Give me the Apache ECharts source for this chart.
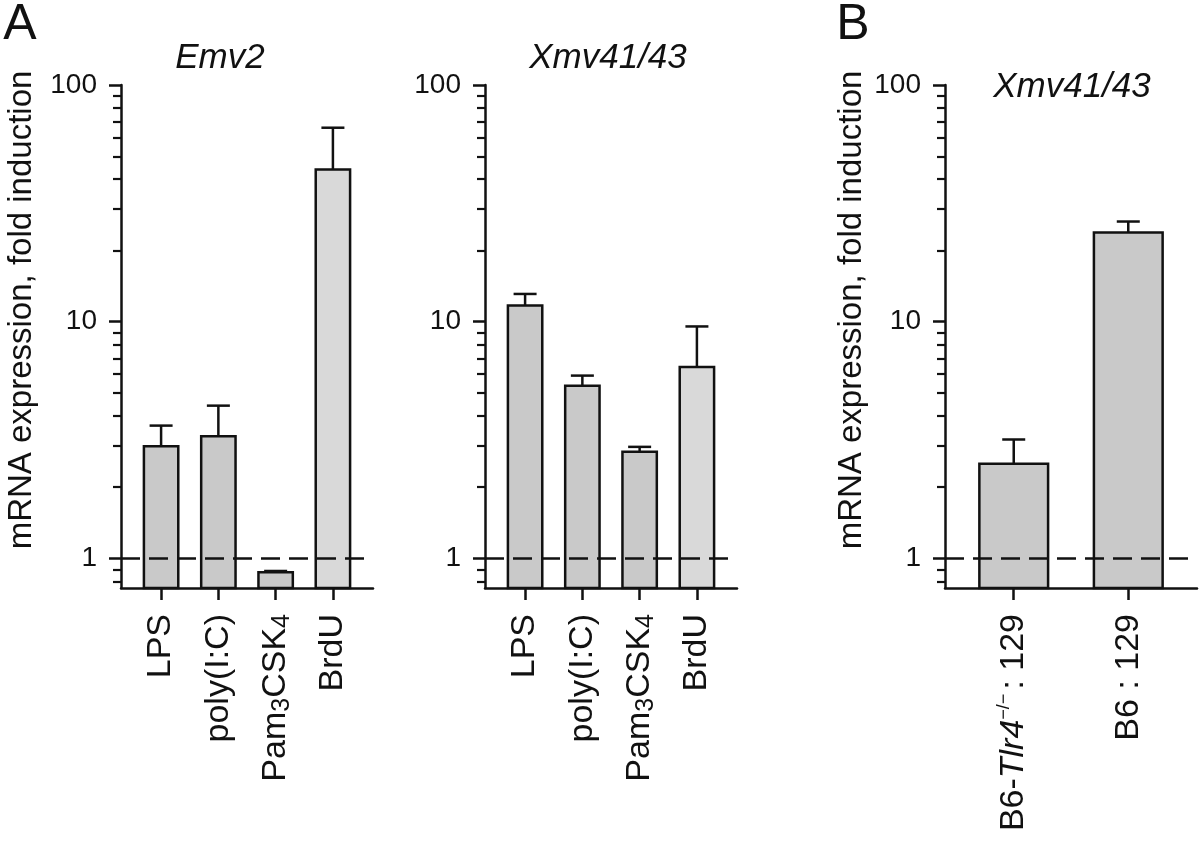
<!DOCTYPE html>
<html><head><meta charset="utf-8">
<script src="https://cdn.jsdelivr.net/npm/echarts@6/dist/echarts.min.js"></script>
<style>html,body{margin:0;padding:0;background:#fff}#c{width:1200px;height:853px}</style>
</head><body><div id="c"></div>
<script>
// ---- data ----
const catsA = ['LPS', 'poly(I:C)', 'Pam₃CSK₄', 'BrdU'];
const catsB = ['B6-Tlr4−/− : 129', 'B6 : 129'];
const emv2Values = [2.98, 3.28, 0.875, 44];
const emv2ErrTop = [3.64, 4.42, 0.885, 66];
const xmvAValues = [11.7, 5.37, 2.82, 6.44];
const xmvAErrTop = [13.1, 5.92, 2.96, 9.55];
const xmvBValues = [2.51, 23.8];
const xmvBErrTop = [3.18, 26.5];
const majorTicks = [1, 10, 100];
const minorTicks = [0.8, 0.9, 2, 3, 4, 5, 6, 7, 8, 9, 20, 30, 40, 50, 60, 70, 80, 90];
const refLine = 1;

// ---- style ----
const FONT = "'Liberation Sans', Arial, sans-serif";
const INK = '#111111';
const LW = 2.5;
const Y_MIN = 0.75, Y_MAX = 100;
const GRAY = '#c9c9c9', LIGHT = '#d9d9d9';
const colorsA = [GRAY, GRAY, GRAY, LIGHT];
const colorsB = [GRAY, GRAY];

const panels = [
  {left: 121, cats: catsA, vals: emv2Values, errs: emv2ErrTop, colors: colorsA, xmin: -0.7, xmax: 3.7},
  {left: 485, cats: catsA, vals: xmvAValues, errs: xmvAErrTop, colors: colorsA, xmin: -0.7, xmax: 3.7},
  {left: 945, cats: catsB, vals: xmvBValues, errs: xmvBErrTop, colors: colorsB, xmin: -0.6, xmax: 1.6}
];

function richLabel(s) {
  if (s.indexOf('₃') >= 0) return '{n|Pam}{sub|3}{n|CSK}{sub|4}';
  if (s.indexOf('Tlr4') >= 0) return '{n|B6-}{i|Tlr4}{sup|−/−}{n|: 129}';
  return '{n|' + s + '}';
}

function renderBar(params, api) {
  const x = api.value(0), v = api.value(1), e = api.value(2);
  const hw = 0.3;
  const pL = api.coord([x - hw, v]);
  const pR = api.coord([x + hw, v]);
  const pB = api.coord([x, Y_MIN]);
  const pE = api.coord([x, e]);
  const cap = 11.5;
  const color = api.visual('color');
  const children = [
    {type: 'rect', shape: {x: pL[0], y: pL[1], width: pR[0] - pL[0], height: pB[1] - pL[1]},
     style: {fill: color, stroke: INK, lineWidth: LW}}
  ];
  if (e > v) {
    const cx = (pL[0] + pR[0]) / 2;
    children.push({type: 'line', shape: {x1: cx, y1: pL[1], x2: cx, y2: pE[1]}, style: {stroke: INK, lineWidth: LW}});
    children.push({type: 'line', shape: {x1: cx - cap, y1: pE[1], x2: cx + cap, y2: pE[1]}, style: {stroke: INK, lineWidth: LW}});
  }
  return {type: 'group', children};
}

const grid = [], xAxis = [], yAxis = [], series = [];
panels.forEach((p, i) => {
  grid.push({left: p.left, top: 85, width: 252, height: 503});
  const idx = p.cats.map((c, k) => k);
  xAxis.push({
    gridIndex: i, type: 'value', min: p.xmin, max: p.xmax, position: 'bottom',
    splitLine: {show: false},
    axisLine: {show: true, onZero: false, lineStyle: {color: INK, width: LW}},
    axisTick: {show: true, customValues: idx, length: 12, lineStyle: {color: INK, width: LW}},
    axisLabel: {
      show: true, customValues: idx, rotate: 90, margin: 26,
      formatter: v => richLabel(p.cats[Math.round(v)]),
      rich: {
        n: {fontSize: 34, fontFamily: FONT, color: INK, lineHeight: 38},
        i: {fontSize: 34, fontFamily: FONT, fontStyle: 'italic', color: INK, lineHeight: 38},
        sub: {fontSize: 25, fontFamily: FONT, color: INK, verticalAlign: 'bottom', lineHeight: 38},
        sup: {fontSize: 18, fontFamily: FONT, color: INK, verticalAlign: 'top', lineHeight: 38, padding: [0, 4, 0, 0]}
      }
    }
  });
  yAxis.push({
    gridIndex: i, type: 'log', logBase: 10, min: Y_MIN, max: Y_MAX, position: 'left',
    splitLine: {show: false},
    axisLine: {show: true, onZero: false, lineStyle: {color: INK, width: LW}},
    axisTick: {show: true, customValues: majorTicks, length: 12, lineStyle: {color: INK, width: LW}},
    axisLabel: {show: true, customValues: majorTicks, margin: 24, fontSize: 28, fontFamily: FONT, color: INK,
      formatter: v => String(Math.round(v))}
  });
  yAxis.push({
    gridIndex: i, type: 'log', logBase: 10, min: Y_MIN, max: Y_MAX, position: 'left', offset: 0,
    splitLine: {show: false},
    axisLine: {show: false, onZero: false},
    axisTick: {show: true, customValues: minorTicks, length: 8, lineStyle: {color: INK, width: 2.2}},
    axisLabel: {show: false}
  });
  series.push({
    type: 'custom', xAxisIndex: i, yAxisIndex: 2 * i, z: 2,
    renderItem: renderBar,
    encode: {x: 0, y: 1},
    data: p.vals.map((v, k) => ({value: [k, v, p.errs[k]], itemStyle: {color: p.colors[k]}}))
  });
  series.push({
    type: 'line', xAxisIndex: i, yAxisIndex: 2 * i, z: 5, symbol: 'none', silent: true,
    lineStyle: {color: INK, width: LW, type: [19, 9]},
    data: [[p.xmin, refLine], [p.xmax, refLine]]
  });
});

const textStyle = (t, extra) => Object.assign({text: t, fontFamily: FONT, fill: INK, align: 'center', textAlign: 'center', verticalAlign: 'middle', textVerticalAlign: 'middle'}, extra);
const yTitle = 'mRNA expression, fold induction';
const graphic = [
  {type: 'text', x: 20, y: 25, style: textStyle('A', {fontSize: 50})},
  {type: 'text', x: 853, y: 25, style: textStyle('B', {fontSize: 50})},
  {type: 'text', x: 220, y: 58, style: textStyle('Emv2', {fontSize: 35, fontStyle: 'italic'})},
  {type: 'text', x: 608, y: 58, style: textStyle('Xmv41/43', {fontSize: 35, fontStyle: 'italic'})},
  {type: 'text', x: 1072, y: 87, style: textStyle('Xmv41/43', {fontSize: 35, fontStyle: 'italic'})},
  {type: 'text', x: 22, y: 310, rotation: Math.PI / 2, style: textStyle(yTitle, {fontSize: 33})},
  {type: 'text', x: 852, y: 310, rotation: Math.PI / 2, style: textStyle(yTitle, {fontSize: 33})}
];

const chart = echarts.init(document.getElementById('c'));
chart.setOption({animation: false, backgroundColor: '#fff', grid, xAxis, yAxis, series, graphic});
</script></body></html>
